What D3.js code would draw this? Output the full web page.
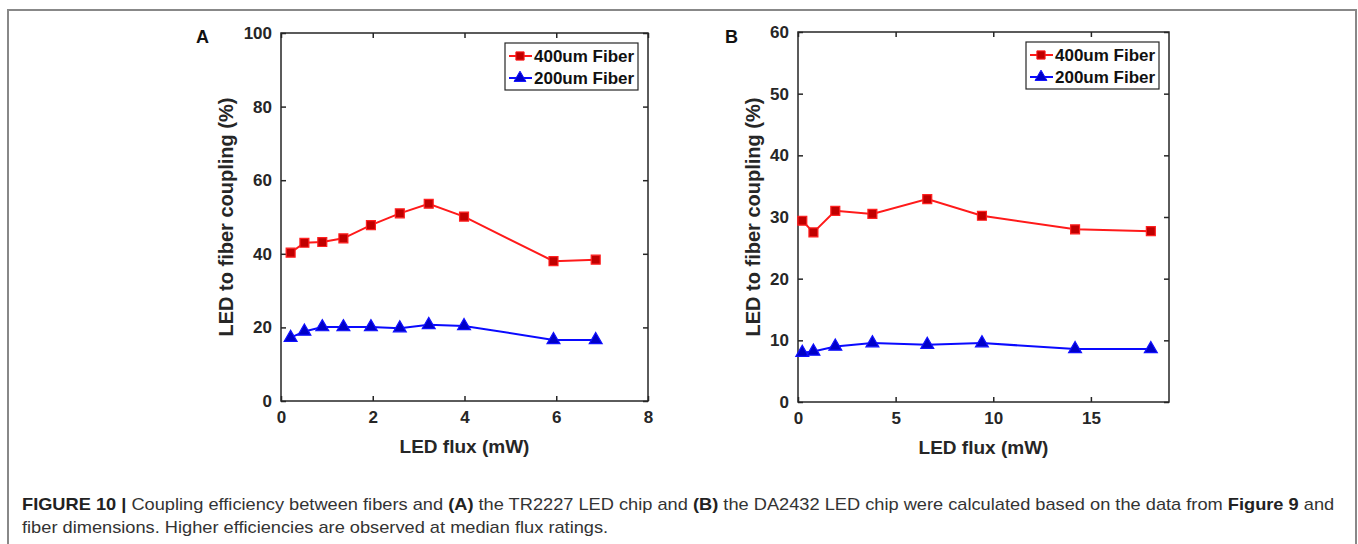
<!DOCTYPE html>
<html>
<head>
<meta charset="utf-8">
<script src="https://cdn.jsdelivr.net/npm/d3@7"></script>
<style>
  body { margin: 0; background: #fff; }
  svg { display: block; font-family: "Liberation Sans", Arial, sans-serif; }
</style>
</head>
<body>
<svg id="fig" width="1358" height="544"></svg>
<script>
// panel A - TR2227 LED chip
const fluxA = [0.21, 0.51, 0.90, 1.36, 1.96, 2.59, 3.22, 3.99, 5.94, 6.86]
const couplingA400 = [40.3, 43.0, 43.2, 44.2, 47.8, 51.0, 53.6, 50.1, 38.0, 38.4]
const couplingA200 = [17.2, 18.9, 20.1, 20.1, 20.1, 19.8, 20.7, 20.4, 16.6, 16.6]
const xTicksA = [0, 2, 4, 6, 8]
const yTicksA = [0, 20, 40, 60, 80, 100]

// panel B - DA2432 LED chip
const fluxB = [0.22, 0.79, 1.91, 3.81, 6.62, 9.42, 14.19, 18.07]
const couplingB400 = [29.4, 27.5, 31.0, 30.5, 32.9, 30.2, 28.0, 27.7]
const couplingB200 = [8.0, 8.2, 9.0, 9.55, 9.3, 9.55, 8.6, 8.6]
const xTicksB = [0, 5, 10, 15]
const yTicksB = [0, 10, 20, 30, 40, 50, 60]

const seriesNames = ['400um Fiber', '200um Fiber']
const captionLines = [
    [['FIGURE 10 | ', true], ['Coupling efficiency between fibers and ', false], ['(A)', true], [' the TR2227 LED chip and ', false], ['(B)', true], [' the DA2432 LED chip were calculated based on the data from ', false], ['Figure 9', true], [' and', false]],
    [['fiber dimensions. Higher efficiencies are observed at median flux ratings.', false]]
]

const svg = d3.select('#fig')
const axisColor = '#262626'

const styles = [
    {line: '#ff1a1a', fill: '#c00000', stroke: '#ff2020', symbol: d3.symbolSquare, size: 80},
    {line: '#0a0aff', fill: '#0000c8', stroke: '#1010ff', symbol: d3.symbolTriangle, size: 72}
]

// outer frame (bottom edge cut off like the source)
svg.append('path')
    .attr('d', 'M8,544 V10 H1356 V544')
    .attr('fill', 'none')
    .attr('stroke', '#888')
    .attr('stroke-width', 2)

function drawPanel(cfg) {
    const g = svg.append('g')
    const x = d3.scaleLinear().domain(cfg.xDomain).range([cfg.left, cfg.right])
    const y = d3.scaleLinear().domain(cfg.yDomain).range([cfg.bottom, cfg.top])
    const tick = 5

    // axes, ticks inward on all four sides
    g.append('g')
        .attr('transform', `translate(0,${cfg.bottom})`)
        .call(d3.axisBottom(x).tickValues(cfg.xTicks).tickSizeInner(-tick).tickSizeOuter(0).tickPadding(10))
    g.append('g')
        .attr('transform', `translate(0,${cfg.top})`)
        .call(d3.axisTop(x).tickValues(cfg.xTicks).tickSizeInner(-tick).tickSizeOuter(0).tickFormat(''))
    g.append('g')
        .attr('transform', `translate(${cfg.left},0)`)
        .call(d3.axisLeft(y).tickValues(cfg.yTicks).tickSizeInner(-tick).tickSizeOuter(0).tickPadding(9))
    g.append('g')
        .attr('transform', `translate(${cfg.right},0)`)
        .call(d3.axisRight(y).tickValues(cfg.yTicks).tickSizeInner(-tick).tickSizeOuter(0).tickFormat(''))

    g.selectAll('.domain').remove()
    g.selectAll('.tick line').attr('stroke', axisColor).attr('stroke-width', 1.5)
    g.selectAll('.tick text')
        .attr('fill', axisColor)
        .style('font-size', '17px')
        .style('font-weight', 'bold')
        .style('font-family', '"Liberation Sans", Arial, sans-serif')

    g.append('rect')
        .attr('x', cfg.left).attr('y', cfg.top)
        .attr('width', cfg.right - cfg.left).attr('height', cfg.bottom - cfg.top)
        .attr('fill', 'none')
        .attr('stroke', axisColor)
        .attr('stroke-width', 1.5)

    // series
    const line = d3.line().x(d => x(d[0])).y(d => y(d[1]))
    cfg.series.forEach((s, i) => {
        const st = styles[i]
        const pts = d3.zip(cfg.flux, s)
        g.append('path')
            .datum(pts)
            .attr('d', line)
            .attr('fill', 'none')
            .attr('stroke', st.line)
            .attr('stroke-width', 2)
        g.selectAll('.m' + i)
            .data(pts)
            .enter()
                .append('path')
                .attr('class', 'm' + i)
                .attr('d', d3.symbol(st.symbol, st.size))
                .attr('transform', d => `translate(${x(d[0])},${y(d[1])})`)
                .attr('fill', st.fill)
                .attr('stroke', st.stroke)
                .attr('stroke-width', 1.2)
    })

    // axis titles
    g.append('text')
        .attr('x', (cfg.left + cfg.right) / 2)
        .attr('y', cfg.bottom + 52)
        .attr('text-anchor', 'middle')
        .attr('fill', axisColor)
        .style('font-size', '19px')
        .style('font-weight', 'bold')
        .text('LED flux (mW)')
    g.append('text')
        .attr('transform', `translate(${cfg.left - cfg.yTitleOffset},${(cfg.top + cfg.bottom) / 2}) rotate(-90)`)
        .attr('text-anchor', 'middle')
        .attr('fill', axisColor)
        .style('font-size', '20px')
        .style('font-weight', 'bold')
        .text('LED to fiber coupling (%)')

    // panel letter
    g.append('text')
        .attr('x', cfg.letterX).attr('y', 43)
        .attr('fill', '#111')
        .style('font-size', '18px')
        .style('font-weight', 'bold')
        .text(cfg.letter)

    // legend
    const lg = g.append('g').attr('transform', `translate(${cfg.legendX},${cfg.top + 10})`)
    lg.append('rect')
        .attr('width', 133).attr('height', 47)
        .attr('fill', '#fff')
        .attr('stroke', axisColor)
        .attr('stroke-width', 1.2)
    seriesNames.forEach((name, i) => {
        const st = styles[i]
        const cy = 13 + i * 22
        lg.append('line')
            .attr('x1', 4).attr('x2', 27)
            .attr('y1', cy).attr('y2', cy)
            .attr('stroke', st.line)
            .attr('stroke-width', 2)
        lg.append('path')
            .attr('d', d3.symbol(st.symbol, st.size * 0.85))
            .attr('transform', `translate(15,${cy})`)
            .attr('fill', st.fill)
            .attr('stroke', st.stroke)
        lg.append('text')
            .attr('x', 29).attr('y', cy + 6)
            .attr('fill', '#111')
            .style('font-size', '17px')
            .style('font-weight', 'bold')
            .text(name)
    })
}

drawPanel({
    letter: 'A', letterX: 196,
    left: 281, right: 648, top: 33, bottom: 401,
    xDomain: [0, 8], yDomain: [0, 100],
    xTicks: xTicksA, yTicks: yTicksA,
    flux: fluxA, series: [couplingA400, couplingA200],
    yTitleOffset: 48, legendX: 505
})

drawPanel({
    letter: 'B', letterX: 725,
    left: 798, right: 1169, top: 32, bottom: 402,
    xDomain: [0, 19], yDomain: [0, 60],
    xTicks: xTicksB, yTicks: yTicksB,
    flux: fluxB, series: [couplingB400, couplingB200],
    yTitleOffset: 38, legendX: 1026
})

// caption, slightly stretched horizontally like the source
const cap = svg.append('g').attr('transform', 'translate(22,0) scale(1.14,1)')
captionLines.forEach((parts, i) => {
    const t = cap.append('text')
        .attr('x', 0)
        .attr('y', 510 + i * 23)
        .attr('fill', '#333')
        .style('font-size', '16px')
    parts.forEach(p => {
        t.append('tspan')
            .style('font-weight', p[1] ? 'bold' : 'normal')
            .attr('fill', p[1] ? '#222' : '#333')
            .text(p[0])
    })
})
</script>
</body>
</html>
